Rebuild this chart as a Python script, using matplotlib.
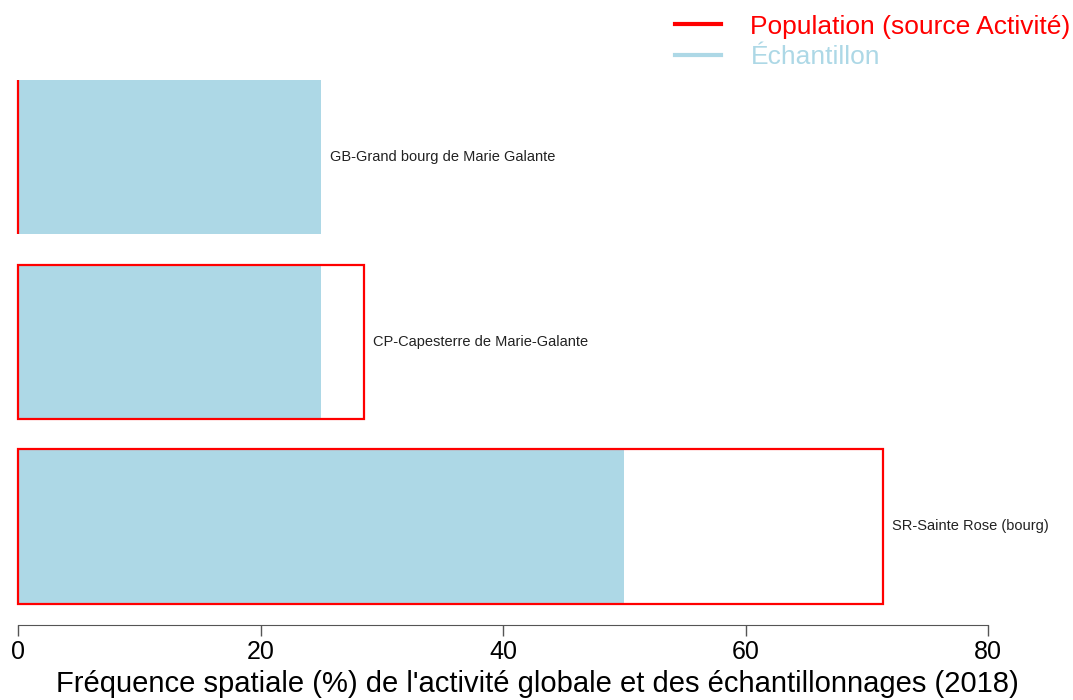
import matplotlib
matplotlib.use("Agg")
import matplotlib.pyplot as plt
from matplotlib.lines import Line2D

plt.rcParams["font.family"] = ["Liberation Sans", "DejaVu Sans"]

# communes, de haut en bas
communes = ["GB-Grand bourg de Marie Galante",
            "CP-Capesterre de Marie-Galante",
            "SR-Sainte Rose (bourg)"]
population = [0.0, 28.5, 71.3]
echantillon = [25.0, 25.0, 50.0]
ticks_x = [0, 20, 40, 60, 80]

fig = plt.figure(figsize=(10.73, 7.0), dpi=100)
ax = fig.add_axes([0.0168, 0.1071, 0.904, 0.7929])

n = len(communes)
pos = [n - 1 - i for i in range(n)]
h = 0.835

ax.barh(pos, echantillon, height=h, color="#add8e6", edgecolor="none", zorder=1)
ax.barh(pos, population, height=h, facecolor="none", edgecolor="red",
        linewidth=1.6, zorder=2, clip_on=False)

for p, nom, pop, ech in zip(pos, communes, population, echantillon):
    ax.text(max(pop, ech) + 0.75, p, nom, va="center", ha="left", fontsize=10.5,
            color="#222222")

ax.set_xlim(0, 80)
ax.set_ylim(-0.534, 2.474)
ax.set_xticks(ticks_x)
ax.tick_params(axis="x", labelsize=18, length=8, width=1, color="#555555", pad=3)
ax.set_yticks([])
for s in ["top", "right", "left"]:
    ax.spines[s].set_visible(False)
ax.spines["bottom"].set_color("#555555")

# titre de l'axe centré sur la figure
fig.text(0.501, 0.011, "Fréquence spatiale (%) de l'activité globale et des échantillonnages (2018)",
         fontsize=21, ha="center", va="baseline")

handles = [Line2D([], [], color="red", linewidth=3),
           Line2D([], [], color="#add8e6", linewidth=3)]
fig.legend(handles, ["Population (source Activité)", "Échantillon"],
           loc="upper right", bbox_to_anchor=(1.02, 1.013), frameon=False,
           fontsize=19, labelcolor="linecolor", handlelength=1.75,
           handletextpad=1.1, labelspacing=0.25)

fig.savefig("out.png", dpi=100)
